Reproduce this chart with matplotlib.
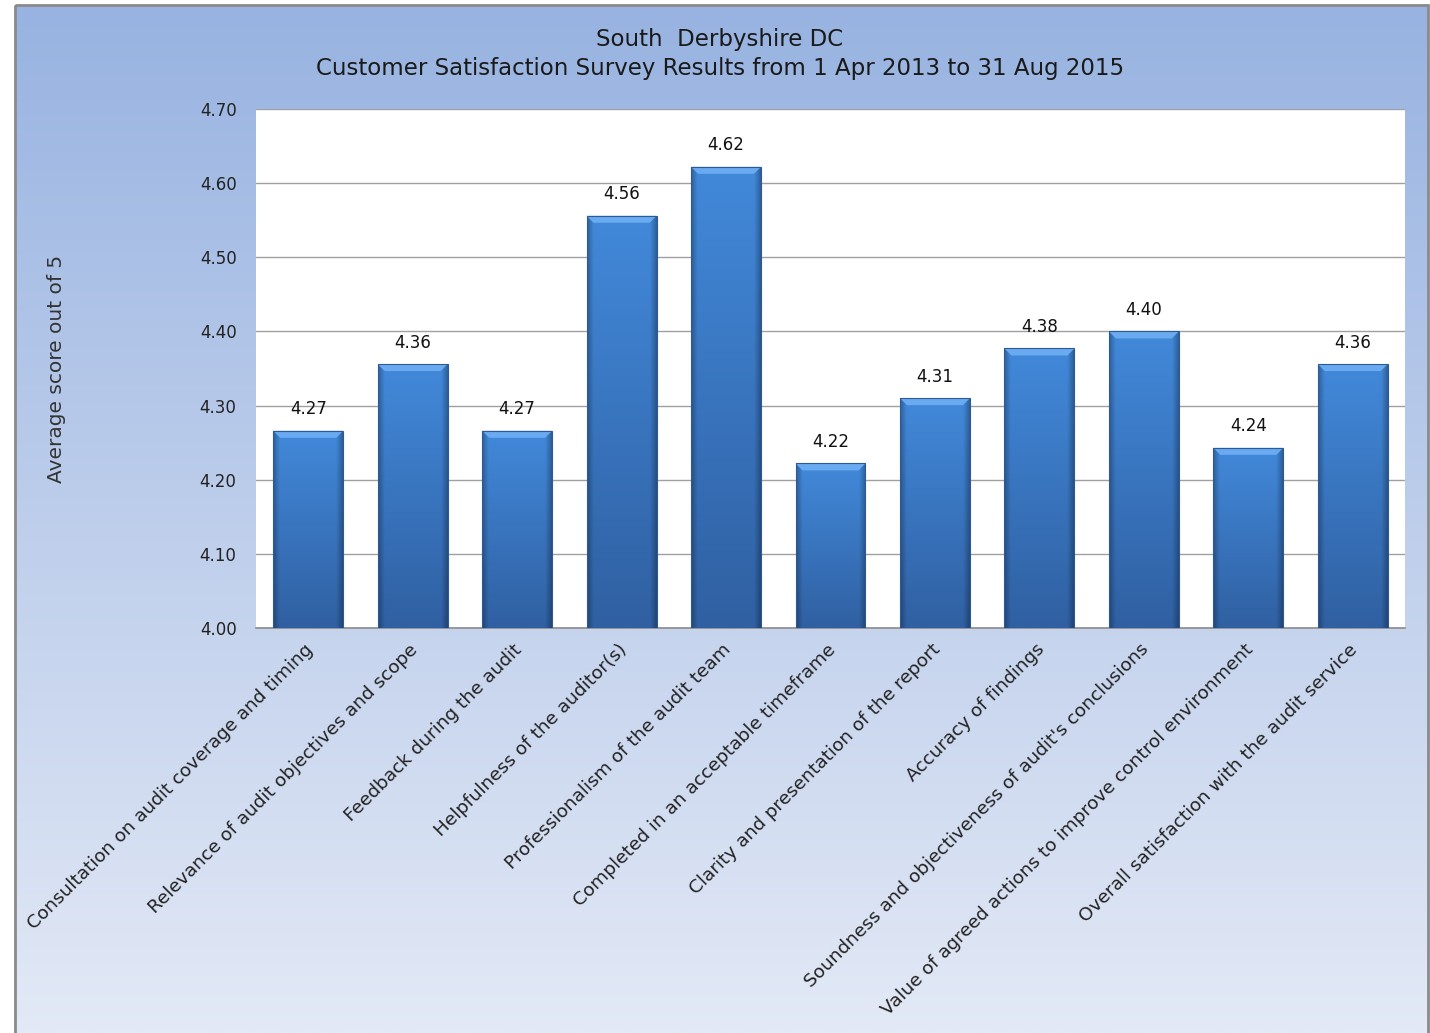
import numpy as np
import matplotlib
matplotlib.use("Agg")
import matplotlib.pyplot as plt
import matplotlib.transforms as mtransforms
from matplotlib.patches import Rectangle, Polygon
from matplotlib.colors import to_rgb

# ---- data ----
categories = [
    "Consultation on audit coverage and timing",
    "Relevance of audit objectives and scope",
    "Feedback during the audit",
    "Helpfulness of the auditor(s)",
    "Professionalism of the audit team",
    "Completed in an acceptable timeframe",
    "Clarity and presentation of the report",
    "Accuracy of findings",
    "Soundness and objectiveness of audit's conclusions",
    "Value of agreed actions to improve control environment",
    "Overall satisfaction with the audit service",
]
scores = [4.266, 4.356, 4.266, 4.556, 4.622, 4.222, 4.31, 4.377, 4.40, 4.243, 4.356]
yticks = [4.00, 4.10, 4.20, 4.30, 4.40, 4.50, 4.60, 4.70]
title_text = "South  Derbyshire DC\nCustomer Satisfaction Survey Results from 1 Apr 2013 to 31 Aug 2015"
ylabel_text = "Average score out of 5"

plt.rcParams['font.family'] = ['DejaVu Sans']
W, H = 1430, 1033
fig = plt.figure(figsize=(W / 100, H / 100), dpi=100)
fig.patch.set_facecolor("white")

# background gradient panel
bg = fig.add_axes([0, 0, 1, 1], zorder=-10)
bg.set_xlim(0, W)
bg.set_ylim(H, 0)
bg.axis("off")
top_c = np.array(to_rgb("#98b3e1"))
bot_c = np.array(to_rgb("#e3e9f6"))
t = np.linspace(0, 1, 256)[:, None]
grad = top_c[None, :] * (1 - t) + bot_c[None, :] * t
grad = np.repeat(grad[:, None, :], 2, axis=1)
bg.imshow(grad, extent=(15, 1428, H, 5), aspect="auto", interpolation="bilinear")
bg.add_patch(Rectangle((15, 5), 1413, H, fill=False, edgecolor="#8a8a8a", linewidth=2))

# plot area
ax = fig.add_axes([256 / W, 1 - 628 / H, (1405 - 256) / W, (628 - 109) / H])
ax.set_facecolor("white")
x = np.arange(len(categories))
ax.set_xlim(-0.5, len(categories) - 0.5)
ax.set_ylim(yticks[0], yticks[-1])
ax.set_yticks(yticks)
ax.set_yticklabels([f"{v:.2f}" for v in yticks], fontsize=12, color="#222222")
ax.yaxis.grid(True, color="#a0a0a0", linewidth=1)
ax.set_axisbelow(True)
for s in ["left", "right", "top"]:
    ax.spines[s].set_visible(False)
ax.spines["bottom"].set_color("#8c8c8c")
ax.spines["bottom"].set_linewidth(1.2)
ax.tick_params(axis="both", length=0)
ax.tick_params(axis="y", pad=14)

bars = ax.bar(x, [s - yticks[0] for s in scores], bottom=yticks[0], width=0.67,
              color="#3a78c8", edgecolor="none", zorder=2)

# gradient shading for each bar
hx = np.linspace(-1, 1, 64)
edge = np.clip((np.abs(hx) - 0.82) / 0.18, 0, 1)
vt = np.linspace(0, 1, 128)[:, None]
col_top = np.array([66, 137, 218]) / 255.0
col_bot = np.array([48, 96, 162]) / 255.0
base = col_top[None, None, :] * (1 - vt[..., None]) + col_bot[None, None, :] * vt[..., None]
dark = 1 - 0.28 * edge[None, :, None]
bar_img = np.clip(base * dark, 0, 1)

px_x = 1 / ((1405 - 256) / len(categories))
px_y = (yticks[-1] - yticks[0]) / (628 - 109)
for b in bars:
    x0, w = b.get_x(), b.get_width()
    y0, y1 = b.get_y(), b.get_y() + b.get_height()
    im = ax.imshow(bar_img, extent=(x0, x0 + w, y0, y1), aspect="auto",
                   interpolation="bilinear", zorder=3, origin="upper")
    im.set_clip_path(b)
    d_x = 7 * px_x
    d_y = 7 * px_y
    bevel = Polygon([(x0, y1), (x0 + w, y1), (x0 + w - d_x, y1 - d_y), (x0 + d_x, y1 - d_y)],
                    closed=True, facecolor="#6aaaf0", edgecolor="none", zorder=4)
    ax.add_patch(bevel)
    ax.add_patch(Rectangle((x0, y0), w, y1 - y0, fill=False, edgecolor="#2d5a96",
                           linewidth=0.8, zorder=5))
ax.set_xlim(-0.5, len(categories) - 0.5)
ax.set_ylim(yticks[0], yticks[-1])

for xi, s in zip(x, scores):
    ax.annotate(f"{s:.2f}", (xi, s), xytext=(0, 15.5), textcoords="offset points",
                ha="center", va="center", fontsize=12, color="#111111", zorder=6)

ax.set_xticks(x)
ax.set_xticklabels(categories, rotation=45, ha="right", va="top",
                   rotation_mode="anchor", fontsize=13.3, color="#222222")
ax.tick_params(axis="x", pad=9)
offset = mtransforms.ScaledTranslation(-4 / 100, 0, fig.dpi_scale_trans)
for lab in ax.get_xticklabels():
    lab.set_transform(lab.get_transform() + offset)

fig.text(720 / W, 1 - 54 / H, title_text, ha="center", va="center", fontsize=16.5,
         color="#1a1a1a", linespacing=1.35)
fig.text(56 / W, 1 - 369 / H, ylabel_text, rotation=90, ha="center", va="center",
         fontsize=14.5, color="#333333")

fig.savefig("out.png", dpi=100)
